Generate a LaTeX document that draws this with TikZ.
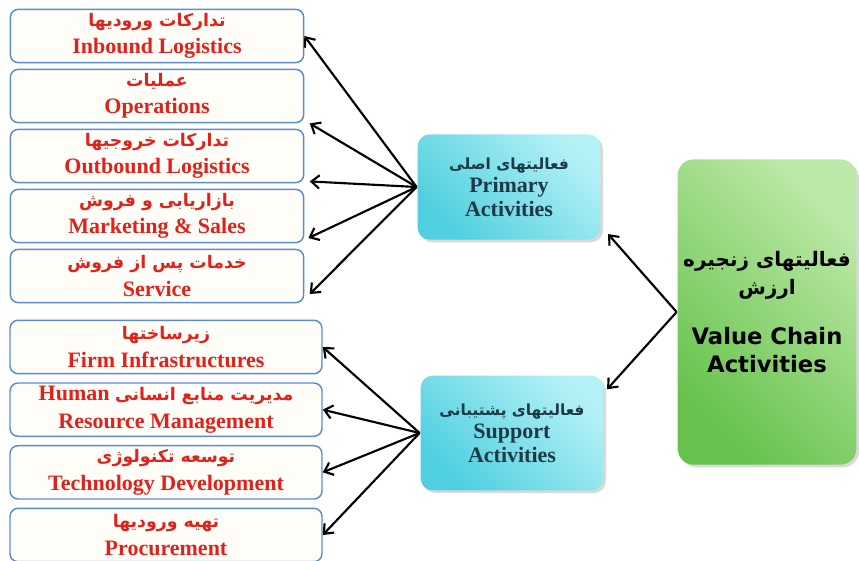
\documentclass[tikz,border=0pt]{standalone}
\usepackage{fontspec}
\setmainfont{Liberation Serif}
\newfontfamily\fafont[Script=Arabic]{DejaVu Sans}
\newfontfamily\vcfont{DejaVu Sans}
\TeXXeTstate=1
\usetikzlibrary{arrows.meta,positioning,shadows}

\definecolor{leafred}{HTML}{E3211B}
\definecolor{leafline}{HTML}{5A8DCF}
\definecolor{leaffill}{HTML}{FFFDF8}
\definecolor{midtext}{HTML}{1D3946}
\definecolor{cyandark}{HTML}{4FCFDF}
\definecolor{cyanlight}{HTML}{B4F1F6}
\definecolor{greendark}{HTML}{66C24C}
\definecolor{greenlight}{HTML}{BDE9A8}

% persian words, right to left
\newcommand{\fa}[2][13]{{\fafont\bfseries\fontsize{#1}{19}\selectfont\beginR #2\endR}}

\begin{document}
\begin{tikzpicture}[x=0.75pt,y=-0.75pt,->,>={Straight Barb[length=6pt,width=10pt]},
    line width=1.6pt,node distance=45pt,
    leaf/.style={draw=leafline,line width=1.1pt,rounded corners=6pt,fill=leaffill,
      minimum width=220pt,minimum height=40pt,inner sep=1pt,align=center,
      text=leafred,font=\bfseries\fontsize{16.5}{20.5}\selectfont},
    group/.style={draw=none,rounded corners=9pt,left color=cyandark,right color=cyanlight,
      shading angle=135,drop shadow={shadow xshift=2pt,shadow yshift=-2pt,opacity=0.3},
      minimum width=137pt,inner sep=2pt,align=center,text=midtext,
      font=\bfseries\fontsize{16.5}{17.5}\selectfont},
    chain/.style={draw=none,rounded corners=12pt,left color=greendark,right color=greenlight,
      shading angle=135,drop shadow={shadow xshift=2pt,shadow yshift=-2pt,opacity=0.3},
      minimum width=134pt,minimum height=229pt,inner sep=2pt,align=center,
      font=\vcfont\bfseries\fontsize{17}{21}\selectfont}]
  \useasboundingbox (0,0) rectangle (859,560);

  % primary activities
  \node[leaf] (ib) at (157,36)   {\fa{تدارکات ورودیها}\\Inbound Logistics};
  \node[leaf] (op) [below of=ib] {\fa{عملیات}\\Operations};
  \node[leaf] (ob) [below of=op] {\fa{تدارکات خروجیها}\\Outbound Logistics};
  \node[leaf] (ms) [below of=ob] {\fa{بازاریابی و فروش}\\Marketing \& Sales};
  \node[leaf] (sv) [below of=ms] {\fa{خدمات پس از فروش}\\Service};

  % support activities
  \node[leaf,minimum width=234pt] (fi) at (166,347) {\fa{زیرساختها}\\Firm Infrastructures};
  \node[leaf,minimum width=234pt,node distance=47pt] (hr) [below of=fi]
    {Human \fa{مدیریت منابع انسانی}\\Resource Management};
  \node[leaf,minimum width=234pt,node distance=47pt] (td) [below of=hr]
    {\fa{توسعه تکنولوژی}\\Technology Development};
  \node[leaf,minimum width=234pt,node distance=47pt] (pr) [below of=td]
    {\fa{تهیه ورودیها}\\Procurement};

  \node[group,minimum height=79pt] (pa) at (509,187) {\fa[11.5]{فعالیتهای اصلی}\\Primary\\Activities};
  \node[group,minimum height=86pt] (sa) at (512,433) {\fa[11.5]{فعالیتهای پشتیبانی}\\Support\\Activities};

  \node[chain] (vc) at (767,312)
    {\fa[15]{فعالیتهای زنجیره}\\\fa[15]{ارزش}\\[16pt]Value Chain\\Activities};

  \draw (pa.west) -- (ib.east);
  \draw (pa.west) -- ([xshift=4pt]op.south east);
  \draw (pa.west) -- ([xshift=4pt,yshift=1.5pt]ob.south east);
  \draw (pa.west) -- ([xshift=3pt,yshift=4pt]ms.south east);
  \draw (pa.west) -- ([xshift=4pt,yshift=7pt]sv.south east);

  \draw (sa.west) -- (fi.east);
  \draw (sa.west) -- (hr.east);
  \draw (sa.west) -- (td.east);
  \draw (sa.west) -- (pr.east);

  \draw (vc.west) -- ([xshift=5pt,yshift=5pt]pa.south east);
  \draw (vc.west) -- ([xshift=2pt,yshift=-11pt]sa.north east);
\end{tikzpicture}
\end{document}
